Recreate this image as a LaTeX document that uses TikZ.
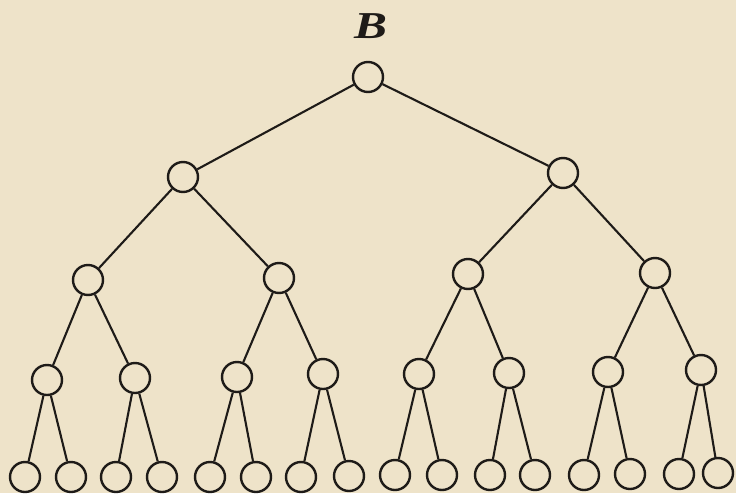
\documentclass[tikz,border=0pt]{standalone}
\usepackage{fontspec}
\setmainfont{Liberation Serif}
\definecolor{paper}{RGB}{238,227,201}
\definecolor{ink}{RGB}{30,27,24}
\begin{document}
\begin{tikzpicture}[x=1pt,y=-1pt,
  vertex/.style={circle,draw=ink,line width=2.4pt,inner sep=0pt,minimum size=30pt},
  branch/.style={draw=ink,line width=2.1pt}]
% paper background fixes the frame
\fill[paper] (0,0) rectangle (736,493);
\useasboundingbox (0,0) rectangle (736,493);

% level 1
\node[vertex] (r) at (368,77) {};
\node[ink,font=\fontsize{38}{38}\selectfont\bfseries\itshape,xscale=1.3,transform shape] (lab) at (371,26) {B};
% level 2
\node[vertex] (a1) at (183,177) {};
\node[vertex] (a2) at (563,173) {};
% level 3
\node[vertex] (b1) at (88,280) {};
\node[vertex] (b2) at (279,278) {};
\node[vertex] (b3) at (468,274) {};
\node[vertex] (b4) at (655,273) {};
% level 4
\node[vertex] (c1) at (47,380) {};
\node[vertex] (c2) at (135,378) {};
\node[vertex] (c3) at (237,377) {};
\node[vertex] (c4) at (323,374) {};
\node[vertex] (c5) at (419,374) {};
\node[vertex] (c6) at (509,373) {};
\node[vertex] (c7) at (608,372) {};
\node[vertex] (c8) at (701,370) {};
% level 5
\node[vertex] (d1) at (25,477) {};
\node[vertex] (d2) at (71,477) {};
\node[vertex] (d3) at (116,477) {};
\node[vertex] (d4) at (162,477) {};
\node[vertex] (d5) at (210,477) {};
\node[vertex] (d6) at (256,477) {};
\node[vertex] (d7) at (301,477) {};
\node[vertex] (d8) at (349,476) {};
\node[vertex] (d9) at (395,475) {};
\node[vertex] (d10) at (442,475) {};
\node[vertex] (d11) at (490,475) {};
\node[vertex] (d12) at (535,475) {};
\node[vertex] (d13) at (584,475) {};
\node[vertex] (d14) at (630,474) {};
\node[vertex] (d15) at (679,474) {};
\node[vertex] (d16) at (718,473) {};

% branches
\draw[branch] (r) -- (a1);
\draw[branch] (r) -- (a2);
\draw[branch] (a1) -- (b1);
\draw[branch] (a1) -- (b2);
\draw[branch] (a2) -- (b3);
\draw[branch] (a2) -- (b4);
\draw[branch] (b1) -- (c1);
\draw[branch] (b1) -- (c2);
\draw[branch] (b2) -- (c3);
\draw[branch] (b2) -- (c4);
\draw[branch] (b3) -- (c5);
\draw[branch] (b3) -- (c6);
\draw[branch] (b4) -- (c7);
\draw[branch] (b4) -- (c8);
\draw[branch] (c1) -- (d1);
\draw[branch] (c1) -- (d2);
\draw[branch] (c2) -- (d3);
\draw[branch] (c2) -- (d4);
\draw[branch] (c3) -- (d5);
\draw[branch] (c3) -- (d6);
\draw[branch] (c4) -- (d7);
\draw[branch] (c4) -- (d8);
\draw[branch] (c5) -- (d9);
\draw[branch] (c5) -- (d10);
\draw[branch] (c6) -- (d11);
\draw[branch] (c6) -- (d12);
\draw[branch] (c7) -- (d13);
\draw[branch] (c7) -- (d14);
\draw[branch] (c8) -- (d15);
\draw[branch] (c8) -- (d16);
\end{tikzpicture}
\end{document}
